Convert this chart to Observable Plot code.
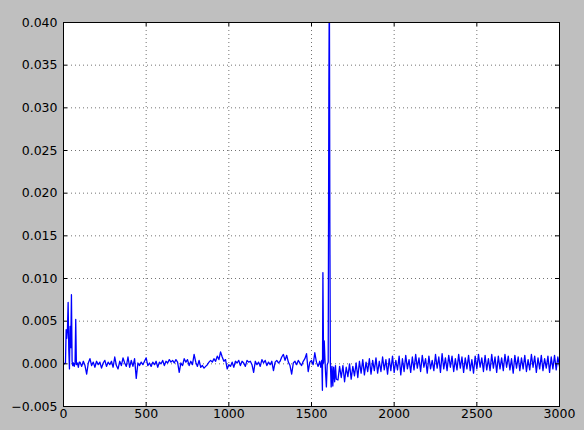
<!DOCTYPE html>
<html>
<head>
<meta charset="utf-8">
<script src="https://cdn.jsdelivr.net/npm/d3@7"></script>
<script src="https://cdn.jsdelivr.net/npm/@observablehq/plot@0.6"></script>
<style>
  html, body { margin: 0; padding: 0; background: #bfbfbf; }
  #chart svg { display: block; }
</style>
</head>
<body>
<div id="chart"></div>
<script>
// Tick labels
const xTicks = [0, 500, 1000, 1500, 2000, 2500, 3000];
const yTicks = [-0.005, 0, 0.005, 0.010, 0.015, 0.020, 0.025, 0.030, 0.035, 0.040];

// Initial burst (irregular sample positions)
const burstX = [0, 6, 12, 16, 20, 24, 28, 32, 36, 40, 44, 48, 52, 56, 60, 65, 70, 74, 78, 84, 90, 95];
const burstY = [.0001, 0, .0001, .004, .003, .0041, .0072, .0016, -.0006, .0044, .0019, .0081, .0003, -.0002, .0001, -.0003, .0002, .0052, -.0001, .0001, -.0004, .0002];

// Baseline, every 10 units from 100 to 1550
const baselineStart = 100;
const baselineValues = [
  .0002,-.0003,.0003,-.0002,-.0012,.0001,.0006,-.0002,.0002,-.0004,
  .0003,-.0001,.0002,-.0005,.0001,.0004,-.0003,.0002,-.0001,.0003,
  -.0004,.0008,-.0002,-.0006,.0003,-.0002,.0007,.0001,-.0003,.0008,
  -.0004,.0004,-.0003,.0006,-.0017,.0001,-.0002,.0002,-.0001,.0003,
  .0007,-.0002,.0001,-.0003,.0002,-.0001,.0003,-.0004,.0002,.0000,
  .0004,-.0002,.0003,.0001,.0005,.0002,.0004,.0001,.0005,.0002,
  -.0010,.0001,-.0002,.0006,.0002,.0005,-.0002,.0003,-.0001,.0011,
  .0002,-.0003,.0004,-.0004,-.0002,-.0005,-.0003,-.0001,.0002,.0004,
  .0002,.0006,.0003,.0009,.0005,.0014,.0008,.0003,.0005,-.0006,
  -.0001,-.0003,.0002,-.0004,.0003,.0001,.0004,-.0002,.0003,.0001,
  -.0003,.0004,.0002,.0003,-.0001,-.0010,.0003,-.0001,.0002,-.0003,
  .0005,.0001,.0004,-.0002,.0002,-.0001,.0003,-.0008,.0002,.0004,
  .0001,.0003,.0008,.0011,.0004,.0010,.0002,-.0002,-.0012,.0001,
  .0003,-.0001,.0004,.0001,-.0002,.0003,.0006,.0012,-.0009,.0002,
  .0004,-.0001,.0013,.0002,-.0003,.0003
];

// Spike region (irregular sample positions)
const spikeX = [1556, 1562, 1566, 1569, 1573, 1577, 1581, 1585, 1590, 1595, 1601, 1605, 1608, 1611, 1614, 1619, 1624, 1629, 1634, 1640, 1645, 1650];
const spikeY = [-.0004, .0004, -.0031, .0107, .0001, .0027, .0007, -.0010, -.0027, -.0001, .0002, .0322, .046, .0166, .0002, -.0027, -.0003, -.0026, -.0004, -.0021, -.0002, -.0018];

// Tail oscillation, every 10 units from 1660 to 3000
const tailStart = 1660;
const tailValues = [
  -.0019,-.0003,-.0016,-.0002,-.0021,-.0004,-.0015,.0000,-.0018,-.0003,
  -.0014,.0001,-.0016,.0003,-.0011,.0005,-.0013,.0002,-.0009,.0006,
  -.0012,.0004,-.0008,.0007,-.0011,.0003,-.0009,.0008,-.0007,.0005,
  -.0012,.0006,-.0008,.0009,-.0010,.0004,-.0007,.0009,-.0013,.0006,
  -.0009,.0010,-.0006,.0005,-.0010,.0008,-.0007,.0011,-.0005,.0007,
  -.0009,.0010,-.0004,.0006,-.0011,.0009,-.0006,.0004,-.0008,.0011,
  -.0005,.0008,-.0010,.0012,-.0006,.0007,-.0008,.0010,-.0004,.0009,
  -.0009,.0006,-.0007,.0011,-.0005,.0008,-.0010,.0007,-.0006,.0010,
  -.0008,.0005,-.0011,.0009,-.0006,.0011,-.0004,.0007,-.0009,.0010,
  -.0007,.0006,-.0008,.0011,-.0005,.0008,-.0010,.0009,-.0006,.0007,
  -.0008,.0011,-.0004,.0009,-.0007,.0006,-.0011,.0010,-.0005,.0008,
  -.0008,.0007,-.0006,.0010,-.0009,.0005,-.0007,.0011,-.0004,.0009,
  -.0010,.0007,-.0006,.0010,-.0008,.0006,-.0005,.0009,-.0010,.0008,
  -.0006,.0010,-.0007,.0008,-.0003
];
const sampleStep = 10;

const data = [
  ...burstX.map((x, i) => ({x, y: burstY[i]})),
  ...baselineValues.map((y, i) => ({x: baselineStart + i * sampleStep, y})),
  ...spikeX.map((x, i) => ({x, y: spikeY[i]})),
  ...tailValues.map((y, i) => ({x: tailStart + i * sampleStep, y}))
];

const W = 584, H = 430, mL = 63, mR = 25, mT = 22, mB = 24;
const innerW = W - mL - mR, innerH = H - mT - mB, tick = 4;
const gridStyle = {stroke: "#000", strokeOpacity: 0.55, strokeDasharray: "1,3", strokeWidth: 1};

const chart = Plot.plot({
  width: W, height: H,
  marginLeft: mL, marginRight: mR, marginTop: mT, marginBottom: mB,
  style: {background: "#bfbfbf", fontFamily: "DejaVu Sans", fontSize: "12.5px", color: "#000"},
  x: {domain: [0, 3000], ticks: xTicks, label: null},
  y: {domain: [-0.005, 0.04], ticks: yTicks, label: null},
  marks: [
    Plot.frame({fill: "white", stroke: null}),
    Plot.gridX(xTicks, gridStyle),
    Plot.gridY(yTicks, gridStyle),
    Plot.line(data, {x: "x", y: "y", stroke: "#0000ff", strokeWidth: 1.3, clip: true}),
    Plot.tickX(xTicks, {x: d => d, insetTop: innerH - tick, stroke: "#000"}),
    Plot.tickX(xTicks, {x: d => d, insetBottom: innerH - tick, stroke: "#000"}),
    Plot.tickY(yTicks, {y: d => d, insetRight: innerW - tick, stroke: "#000"}),
    Plot.tickY(yTicks, {y: d => d, insetLeft: innerW - tick, stroke: "#000"}),
    Plot.axisX(xTicks, {anchor: "bottom", tickSize: 0, tickPadding: 3, tickFormat: d => String(d), fill: "#000", label: null}),
    Plot.axisY(yTicks, {anchor: "left", tickSize: 0, tickPadding: 6, tickFormat: d3.format(".3f"), fill: "#000", label: null}),
    Plot.frame({stroke: "#000", strokeWidth: 1})
  ]
});
document.getElementById("chart").appendChild(chart);
</script>
</body>
</html>
